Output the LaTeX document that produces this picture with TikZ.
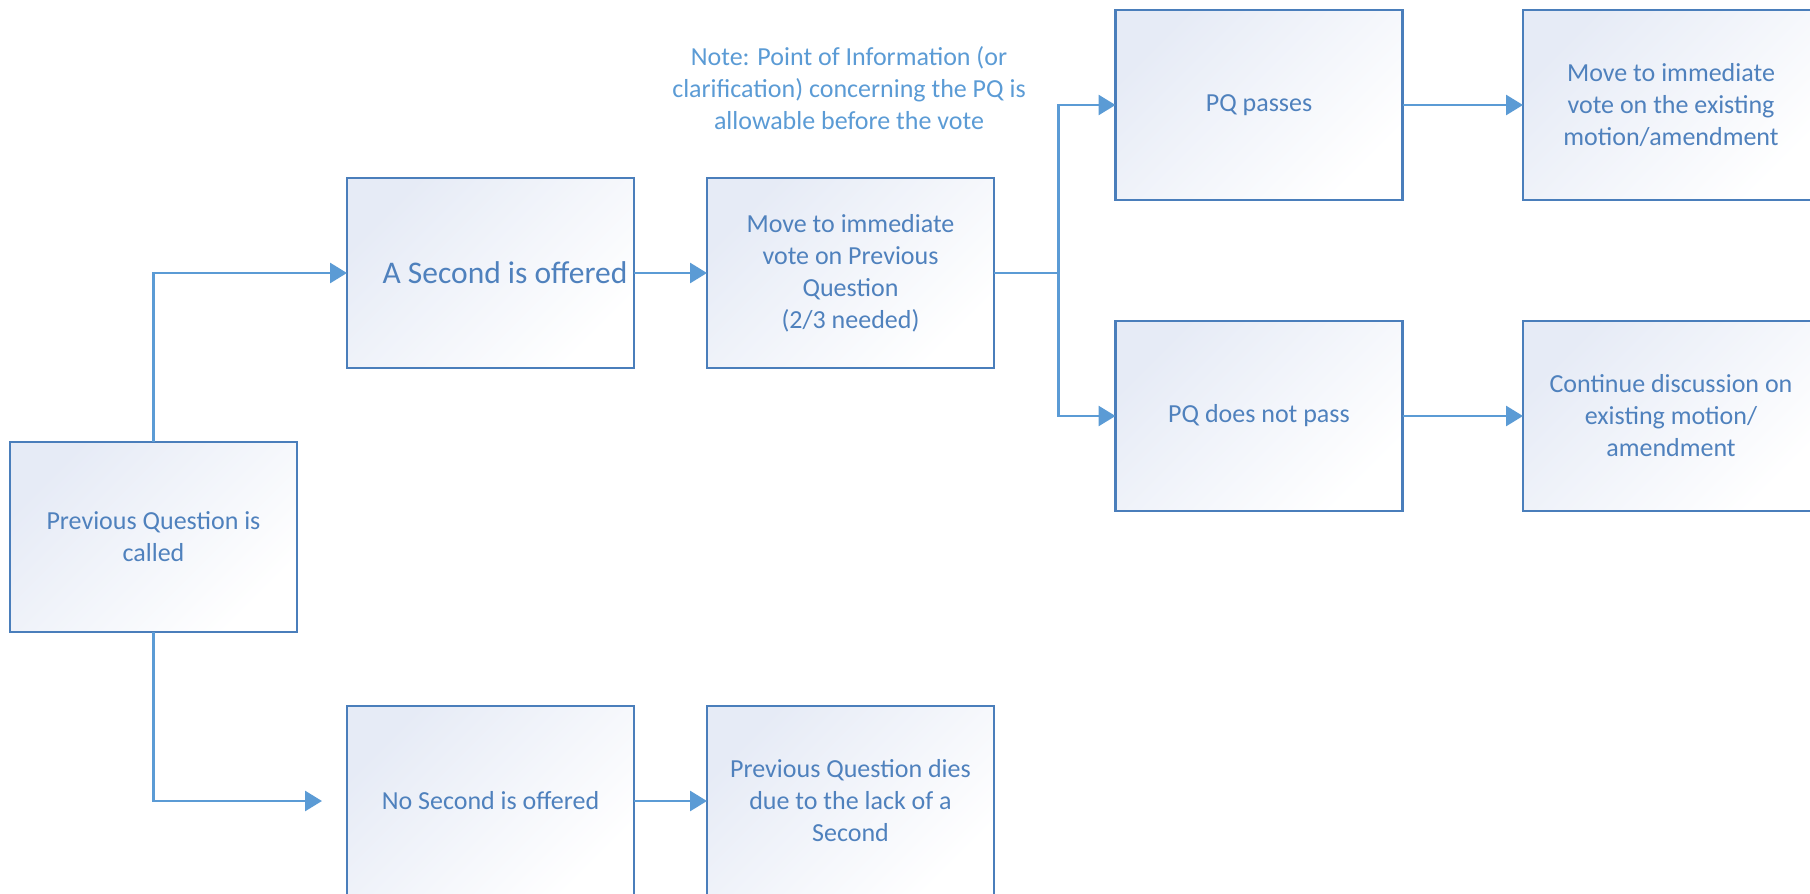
\documentclass[tikz,border=0pt]{standalone}
\usepackage{fontspec}
\setmainfont{Carlito}
\usetikzlibrary{arrows.meta}
\definecolor{boxline}{HTML}{4A7EBB}
\definecolor{connline}{HTML}{5B9BD5}
\definecolor{boxtext}{HTML}{4F81BD}
\definecolor{notetext}{HTML}{5B9BD5}
\definecolor{shadecol}{HTML}{E6EBF6}
\definecolor{shademid}{HTML}{FAFBFD}
\begin{document}
\begin{tikzpicture}[x=1pt,y=-1pt,
  flowbox/.style={rectangle, draw=boxline, line width=2.2pt,
    minimum width=287pt, minimum height=190pt, inner sep=0pt, outer sep=0pt,
    align=center, text=boxtext, font=\fontsize{26}{32}\selectfont,
    top color=shadecol, middle color=shademid, bottom color=white, shading angle=45},
  widebox/.style={flowbox, minimum width=296pt},
  connector/.style={draw=connline, line width=2.8pt, -{Triangle[length=17pt,width=20pt]}},
  notestyle/.style={align=center, text=notetext, font=\fontsize{26}{32}\selectfont, inner sep=0pt}]
\useasboundingbox (0,0) rectangle (1810,894);

\node[flowbox] (called)   at (153.5,537) {Previous Question is\\called};
\node[flowbox] (second)   at (490.5,273)   {\hspace*{29pt}\fontsize{31.5}{38}\selectfont A Second is offered};
\node[flowbox] (vote)     at (850.5,273)   {Move to immediate\\vote on Previous\\Question\\(2/3 needed)};
\node[flowbox] (passes)   at (1259,105)    {PQ passes};
\node[widebox] (existing) at (1671,105)    {Move to immediate\\vote on the existing\\motion/amendment};
\node[flowbox] (notpass)  at (1259,416)    {PQ does not pass};
\node[widebox] (continue) at (1671,416)    {Continue discussion on\\existing motion/\\amendment};
\node[flowbox] (nosecond) at (490.5,801)   {No Second is offered};
\node[flowbox] (dies)     at (850.5,801)   {Previous Question dies\\due to the lack of a\\Second};

\node[notestyle] (note) at (849,88) {Note: Point of Information (or\\clarification) concerning the PQ is\\allowable before the vote};

\coordinate (noarr) at (322,801);
\coordinate (split) at (1058.5,273);

\draw[connector] (called.north) |- (second.west);
\draw[connector] (called.south) |- (noarr);
\draw[connector] (second.east) -- (vote.west);
\draw[connector] (vote.east) -- (split) |- (passes.west);
\draw[connector] (split) |- (notpass.west);
\draw[connector] (passes.east) -- (existing.west);
\draw[connector] (notpass.east) -- (continue.west);
\draw[connector] (nosecond.east) -- (dies.west);
\end{tikzpicture}
\end{document}
